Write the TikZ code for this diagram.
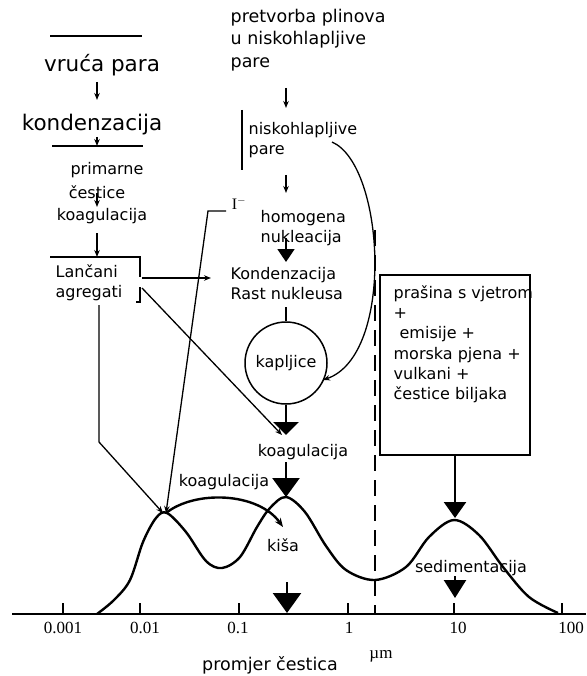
\documentclass[tikz,border=0pt]{standalone}
\usepackage{fontspec}
\setmainfont{DejaVu Sans}
\newfontfamily\numfont{Liberation Serif}
\usepackage{tikz}
\usetikzlibrary{calc,positioning,arrows.meta}
\tikzset{
txt/.style={font=\fontsize{16}{20}\selectfont, inner sep=0pt, align=left},
big/.style={font=\fontsize{21.5}{26}\selectfont, inner sep=0pt},
num/.style={font=\numfont\fontsize{17}{19}\selectfont, inner sep=0pt},
sarr/.style={-{Stealth[length=7pt,width=5.5pt]}, line width=1.3pt},
barr/.style 2 args={line width=2.5pt, -{Triangle[width=#1,length=#2]}},
}

\begin{document}
\begin{tikzpicture}[x=1pt,y=-1pt,line width=1.3pt]
\useasboundingbox (0,0) rectangle (586,676);
% left column
\node[big] (vruca) at (102,65) {vruća para};
\node[big] (kond) at (92,125) {kondenzacija};
\node[txt] (prim) at (107,170) {primarne};
\node[txt] (cest) at (97,192) {čestice};
\node[txt] (koagA) at (102,216) {koagulacija};
\node[txt, anchor=west] (lanc) at (55,283) {Lančani\\agregati};
\draw (50,36) -- (142,36);
\draw (52,146) -- (143,146);
\draw (50,257) -- (140,257) -- (140,277);
\draw (140,287) -- (140,302) -- (136,302);
\draw[sarr] ($(vruca)+(-5,17)$) -- ($(kond)+(5,-25)$);
\draw[sarr] ($(kond)+(5,12)$) -- ($(kond)+(5,21)$);
\draw[sarr] ($(cest)+(0,1)$) -- ($(cest)+(0,15)$);
\draw[sarr] ($(koagA)+(-5,17)$) -- ($(koagA)+(-5,41)$);

% middle column
\node[txt, anchor=west, font=\fontsize{17.5}{22.5}\selectfont] (pretv) at (230,40) {pretvorba plinova\\u niskohlapljive\\pare};
\node[txt, anchor=west] (nisko) at (248,140) {niskohlapljive\\pare};
\node[inner sep=0pt, font=\numfont\fontsize{16}{18}\selectfont] (iod) at (239,203) {I$^{-}$};
\node[txt, anchor=west] (homog) at (260,228) {homogena\\nukleacija};
\node[txt, anchor=west] (kondB) at (230,284) {Kondenzacija\\Rast nukleusa};
\node[txt, draw, circle, minimum size=82pt, line width=1.5pt] (kap) at (286,363) {kapljice};
\node[txt] (koagB) at (303,452) {koagulacija};
\node[txt] (koagC) at (224,482) {koagulacija};
\node[txt] (kisa) at (283,545) {kiša};
\coordinate (peak1) at (166,513);
\coordinate (peak2) at (286,497);
\coordinate (peak3) at (455,518);
\draw ($(nisko.west)+(-6,-30)$) -- ($(nisko.west)+(-6,30)$);
\draw[sarr] ($(pretv.west)+(56,48)$) -- ($(nisko.west)+(38,-32)$);
\draw[sarr] ($(nisko.west)+(38,35)$) -- ($(homog.west)+(26,-35)$);
\draw[line width=1.8pt, -{Triangle[width=17pt,length=13pt]}] ($(homog.west)+(26,10)$) -- ($(kondB.west)+(56,-22)$);
\draw ($(kondB.west)+(56,23)$) -- (kap);
\draw[barr={25pt}{13pt}] (kap) -- ($(koagB)+(-17,-17)$);
\draw[barr={27pt}{19pt}] ($(koagB)+(-17,10)$) -- (peak2);
\draw[sarr] ($(nisko.west)+(84,2)$) .. controls (385,165) and (395,355) .. ($(kap)+(37,17)$);

% from the aggregates and iodide to the first mode
\draw[sarr] ($(lanc.west)+(87,-5)$) -- ($(kondB.west)+(-19,-6)$);
\draw[sarr] ($(lanc.west)+(87,5)$) -- ($(koagB)+(-21,-17)$);
\draw[sarr] ($(lanc.west)+(44,22)$) -- ++(0,137) -- ([xshift=-3pt]peak1);
\draw[sarr] ($(iod)+(-13,8)$) -- ++(-18,0) -- (peak1);
\draw[line width=2.4pt, -{Stealth[length=9pt,width=7pt]}] (peak1) .. controls (195,490) and (258,492) .. (283,527);

% coarse particles
\node[draw, minimum width=150pt, minimum height=180pt, inner sep=0pt, line width=1.5pt] (box) at (455,365) {};
\node[txt, anchor=north west, font=\fontsize{16}{20.2}\selectfont] (boxtxt) at (393,285)
  {prašina s vjetrom\\+\\\hspace{6pt}emisije +\\morska pjena +\\vulkani +\\čestice biljaka};
\draw[barr={22pt}{16pt}] (box) -- (peak3);
\node[txt] (sed) at (471,568) {sedimentacija};
\draw[barr={22pt}{18pt}] ($(sed)+(-16,8)$) -- ($(sed)+(-16,30)$);
\draw[barr={28pt}{20pt}] ($(kisa)+(4,37)$) -- ($(kisa)+(4,68)$);
\draw[dash pattern=on 16pt off 9pt] (375,230) -- (375,614);

% size distribution
\draw[line width=2.4pt] plot[smooth, tension=0.55] coordinates {(97,614) (114,600) (130,580) (143,542) (156,518) (167,513) (186,532) (206,561) (222,568) (240,557) (257,527) (270,508) (286,497) (305,512) (326,546) (346,570) (375,580) (406,567) (429,537) (454,520) (479,535) (503,567) (529,597) (558,613)};
\draw (12,614) -- (586,614);
\foreach \x/\lx/\t in {63/63/0.001,140/145/0.01,239/238/0.1,348/349/1,454/458/10,562/571/100} {
  \draw (\x,603) -- (\x,614);
  \node[num] at (\lx,628) {\t};
}
\node[txt, font=\fontsize{17.5}{20}\selectfont] (promjer) at (270,665) {promjer čestica};
\node[num] (um) at (381,656) {µm};
\end{tikzpicture}
\end{document}
